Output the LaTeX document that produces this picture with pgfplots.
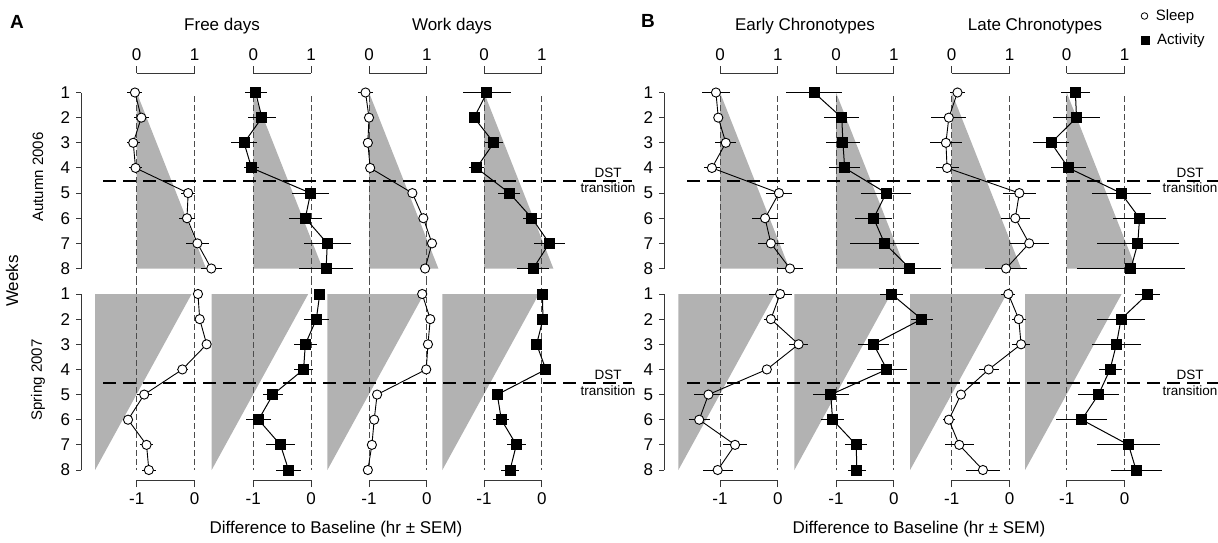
\documentclass[border=0pt]{standalone}
\usepackage{pgfplots}
\pgfplotsset{compat=1.18}
\usepackage{pgfplotstable}
\usepackage{fontspec}
\setmainfont{Liberation Sans}
\definecolor{shade}{RGB}{178,178,178}
\definecolor{axcol}{RGB}{55,55,55}

% ---- Free days, sleep ----
\pgfplotstableread{
w x e
1 -0.03 0.13
2 0.08 0.13
3 -0.06 0.11
4 -0.02 0.11
5 0.89 0.12
6 0.87 0.13
7 1.05 0.20
8 1.29 0.18
}\tFSa
\pgfplotstableread{
w x e
1 0.06 0.05
2 0.09 0.06
3 0.21 0.06
4 -0.21 0.10
5 -0.87 0.13
6 -1.15 0.09
7 -0.83 0.11
8 -0.79 0.12
}\tFSs
% ---- Free days, activity ----
\pgfplotstableread{
w x e
1 0.04 0.19
2 0.15 0.25
3 -0.16 0.23
4 -0.03 0.13
5 0.99 0.32
6 0.90 0.29
7 1.28 0.41
8 1.26 0.47
}\tFAa
\pgfplotstableread{
w x e
1 0.15 0.08
2 0.09 0.22
3 -0.10 0.20
4 -0.13 0.16
5 -0.66 0.17
6 -0.91 0.22
7 -0.53 0.25
8 -0.39 0.22
}\tFAs
% ---- Work days, sleep ----
\pgfplotstableread{
w x e
1 -0.06 0.13
2 0.00 0.04
3 -0.02 0.04
4 0.02 0.04
5 0.75 0.05
6 0.94 0.05
7 1.09 0.06
8 0.97 0.05
}\tWSa
\pgfplotstableread{
w x e
1 -0.08 0.05
2 0.06 0.05
3 0.02 0.03
4 -0.01 0.03
5 -0.86 0.05
6 -0.91 0.04
7 -0.95 0.06
8 -1.02 0.03
}\tWSs
% ---- Work days, activity ----
\pgfplotstableread{
w x e
1 0.05 0.41
2 -0.17 0.09
3 0.17 0.16
4 -0.13 0.13
5 0.44 0.19
6 0.83 0.16
7 1.13 0.27
8 0.85 0.28
}\tWAa
\pgfplotstableread{
w x e
1 0.01 0.10
2 0.02 0.07
3 -0.09 0.10
4 0.07 0.08
5 -0.77 0.08
6 -0.70 0.14
7 -0.44 0.16
8 -0.55 0.16
}\tWAs
% ---- Early chronotypes, sleep ----
\pgfplotstableread{
w x e
1 -0.07 0.25
2 -0.03 0.06
3 0.10 0.18
4 -0.14 0.14
5 1.02 0.22
6 0.78 0.22
7 0.88 0.22
8 1.21 0.22
}\tESa
\pgfplotstableread{
w x e
1 0.04 0.20
2 -0.12 0.12
3 0.36 0.16
4 -0.19 0.09
5 -1.20 0.25
6 -1.36 0.18
7 -0.74 0.21
8 -1.04 0.26
}\tESs
% ---- Early chronotypes, activity ----
\pgfplotstableread{
w x e
1 -0.38 0.49
2 0.10 0.30
3 0.12 0.29
4 0.15 0.27
5 0.87 0.43
6 0.65 0.32
7 0.84 0.59
8 1.28 0.53
}\tEAa
\pgfplotstableread{
w x e
1 -0.04 0.20
2 0.48 0.19
3 -0.35 0.27
4 -0.12 0.34
5 -1.09 0.31
6 -1.06 0.20
7 -0.65 0.19
8 -0.64 0.16
}\tEAs
% ---- Late chronotypes, sleep ----
\pgfplotstableread{
w x e
1 0.10 0.13
2 -0.05 0.30
3 -0.10 0.28
4 -0.08 0.20
5 1.17 0.29
6 1.10 0.25
7 1.34 0.34
8 0.94 0.36
}\tLSa
\pgfplotstableread{
w x e
1 -0.02 0.12
2 0.16 0.12
3 0.20 0.16
4 -0.36 0.17
5 -0.84 0.08
6 -1.05 0.10
7 -0.87 0.25
8 -0.46 0.30
}\tLSs
% ---- Late chronotypes, activity ----
\pgfplotstableread{
w x e
1 0.15 0.25
2 0.17 0.40
3 -0.27 0.31
4 0.03 0.31
5 0.94 0.51
6 1.26 0.46
7 1.23 0.71
8 1.11 0.93
}\tLAa
\pgfplotstableread{
w x e
1 0.40 0.21
2 -0.06 0.42
3 -0.14 0.42
4 -0.25 0.20
5 -0.45 0.35
6 -0.74 0.44
7 0.07 0.55
8 0.20 0.44
}\tLAs

\pgfplotsset{
  base/.style={scale only axis, width=57.8pt, clip=false, anchor=north west, y dir=reverse,
    axis y line=none, ytick=\empty, tick align=outside, major tick length=7pt,
    axis line style={line width=1pt, color=axcol}, tick style={line width=1pt, color=axcol},
    ticklabel style={font=\fontsize{17}{20}\selectfont}},
  topax/.style={base, height=195.2pt, xmin=0, xmax=1, ymin=0.236, ymax=8,
    axis x line*=top, xtick={0,1}, xticklabels={0,1}},
  botax/.style={base, height=186pt, xmin=-1, xmax=0, ymin=1, ymax=8.398,
    axis x line*=bottom, xtick={-1,0}, xticklabels={-1,0}},
  weekax/.style={scale only axis, width=20pt, height=176pt, xmin=0, xmax=1, ymin=1, ymax=8,
    y dir=reverse, axis y line*=left, axis x line=none, xtick=\empty,
    ytick={1,2,3,4,5,6,7,8}, yticklabels={1,2,3,4,5,6,7,8},
    tick align=outside, major tick length=5pt, anchor=north west, clip=false,
    axis line style={line width=1pt, color=axcol}, tick style={line width=1pt, color=axcol},
    ticklabel style={font=\fontsize{17}{20}\selectfont}},
  overlay/.style={scale only axis, width=1218pt, height=542pt, xmin=0, xmax=1218, ymin=-542, ymax=0,
    hide axis, clip=false, anchor=north west, at={(0pt,0pt)}},
  legbox/.style={legend style={draw=none, fill=none, anchor=west,
    font=\fontsize{15}{17}\selectfont, column sep=7pt, inner sep=0pt,
    nodes={inner sep=1pt}}, legend cell align=left},
  shadefill/.style={fill=shade, draw=none, mark=none},
  vdash/.style={color=black!70, line width=0.8pt, dash pattern=on 6pt off 3pt, mark=none},
  dst/.style={black, line width=2pt, dash pattern=on 13pt off 7pt, mark=none, forget plot},
  sleep/.style={black, line width=0.9pt, mark=*, mark size=4.6pt,
    mark options={fill=white, solid, line width=0.9pt},
    error bars/.cd, x dir=both, x explicit, error mark=none,
    error bar style={line width=1pt, black}},
  act/.style={black, line width=1pt, mark=square*, mark size=5pt,
    mark options={fill=black, solid},
    error bars/.cd, x dir=both, x explicit, error mark=none,
    error bar style={line width=1pt, black}},
}

% first pass: axes brackets, shaded regions and reference lines
\newcommand{\topshade}[1]{%
\begin{axis}[topax, at={(#1pt,-73.3pt)}]
\addplot[shadefill] coordinates {(0,1) (0,8) (1.2,8)};
\addplot[vdash] coordinates {(0,1.15) (0,8.6)};
\addplot[vdash] coordinates {(1,1.15) (1,8.6)};
\end{axis}}
\newcommand{\botshade}[1]{%
\begin{axis}[botax, at={(#1pt,-294pt)}]
\addplot[shadefill] coordinates {(-1.72,1) (-0.05,1) (-1.72,8)};
\addplot[vdash] coordinates {(-1,0.4) (-1,8)};
\addplot[vdash] coordinates {(0,0.4) (0,8)};
\end{axis}}
% second pass: data
\newcommand{\topdata}[3]{%
\begin{axis}[topax, hide axis, at={(#1pt,-73.3pt)}]
\addplot[#3] table[x=x, y=w, x error=e] {#2};
\end{axis}}
\newcommand{\botdata}[3]{%
\begin{axis}[botax, hide axis, at={(#1pt,-294pt)}]
\addplot[#3] table[x=x, y=w, x error=e] {#2};
\end{axis}}

\begin{document}
\fontsize{17}{20}\selectfont
\begin{tikzpicture}
\useasboundingbox (0pt,0pt) rectangle (1218pt,-542pt);

% week axes
\begin{axis}[weekax, at={(81pt,-92.5pt)}]\end{axis}
\begin{axis}[weekax, at={(81pt,-294pt)}]\end{axis}
\begin{axis}[weekax, at={(664pt,-92.5pt)}]\end{axis}
\begin{axis}[weekax, at={(664pt,-294pt)}]\end{axis}

% shading
\topshade{136.7}\botshade{136.7}
\topshade{253.3}\botshade{253.3}
\topshade{369}\botshade{369}
\topshade{484}\botshade{484}
\topshade{720}\botshade{720}
\topshade{836}\botshade{836}
\topshade{951.7}\botshade{951.7}
\topshade{1066.7}\botshade{1066.7}

% panel A data
\topdata{136.7}{\tFSa}{sleep}
\botdata{136.7}{\tFSs}{sleep}
\topdata{253.3}{\tFAa}{act}
\botdata{253.3}{\tFAs}{act}
\topdata{369}{\tWSa}{sleep}
\botdata{369}{\tWSs}{sleep}
\topdata{484}{\tWAa}{act}
\botdata{484}{\tWAs}{act}
% panel B data
\topdata{720}{\tESa}{sleep}
\botdata{720}{\tESs}{sleep}
\topdata{836}{\tEAa}{act}
\botdata{836}{\tEAs}{act}
\topdata{951.7}{\tLSa}{sleep}
\botdata{951.7}{\tLSs}{sleep}
\topdata{1066.7}{\tLAa}{act}
\botdata{1066.7}{\tLAs}{act}

% overlay: DST lines
\begin{axis}[overlay, legbox, legend style={at={(1141/1218,1-16/542)}}]
\addplot[dst] coordinates {(103,-180.5) (632,-180.5)};
\addplot[dst] coordinates {(687,-180.5) (1218,-180.5)};
\addplot[dst] coordinates {(103,-382.5) (632,-382.5)};
\addplot[dst] coordinates {(687,-382.5) (1218,-382.5)};
\addlegendimage{only marks, mark=o, mark size=3.3pt, black, line width=0.8pt}
\addlegendentry{Sleep}
\end{axis}
\begin{axis}[overlay, legbox, legend style={at={(1141/1218,1-40/542)}}]
\addlegendimage{only marks, mark=square*, mark size=4pt, black}
\addlegendentry{Activity}
\end{axis}

% texts
\node[font=\bfseries\fontsize{19}{22}\selectfont] at (17pt,-22pt) {A};
\node[font=\bfseries\fontsize{19}{22}\selectfont] at (648pt,-21pt) {B};
\node at (222pt,-26pt) {Free days};
\node at (452pt,-26pt) {Work days};
\node at (805pt,-26pt) {Early Chronotypes};
\node at (1035pt,-26pt) {Late Chronotypes};
\node[rotate=90] at (12pt,-281pt) {Weeks};
\node[rotate=90, font=\fontsize{15}{17}\selectfont] at (38pt,-177pt) {Autumn 2006};
\node[rotate=90, font=\fontsize{15}{17}\selectfont] at (38pt,-380pt) {Spring 2007};
\foreach \xx in {608,1190} {
  \node[font=\fontsize{13.5}{15}\selectfont] at (\xx pt,-172.5pt) {DST};
  \node[font=\fontsize{13.5}{15}\selectfont] at (\xx pt,-188pt) {transition};
  \node[font=\fontsize{13.5}{15}\selectfont] at (\xx pt,-375pt) {DST};
  \node[font=\fontsize{13.5}{15}\selectfont] at (\xx pt,-391pt) {transition};
}
\node at (336pt,-529pt) {Difference to Baseline (hr ± SEM)};
\node at (919pt,-529pt) {Difference to Baseline (hr ± SEM)};
\end{tikzpicture}
\end{document}
